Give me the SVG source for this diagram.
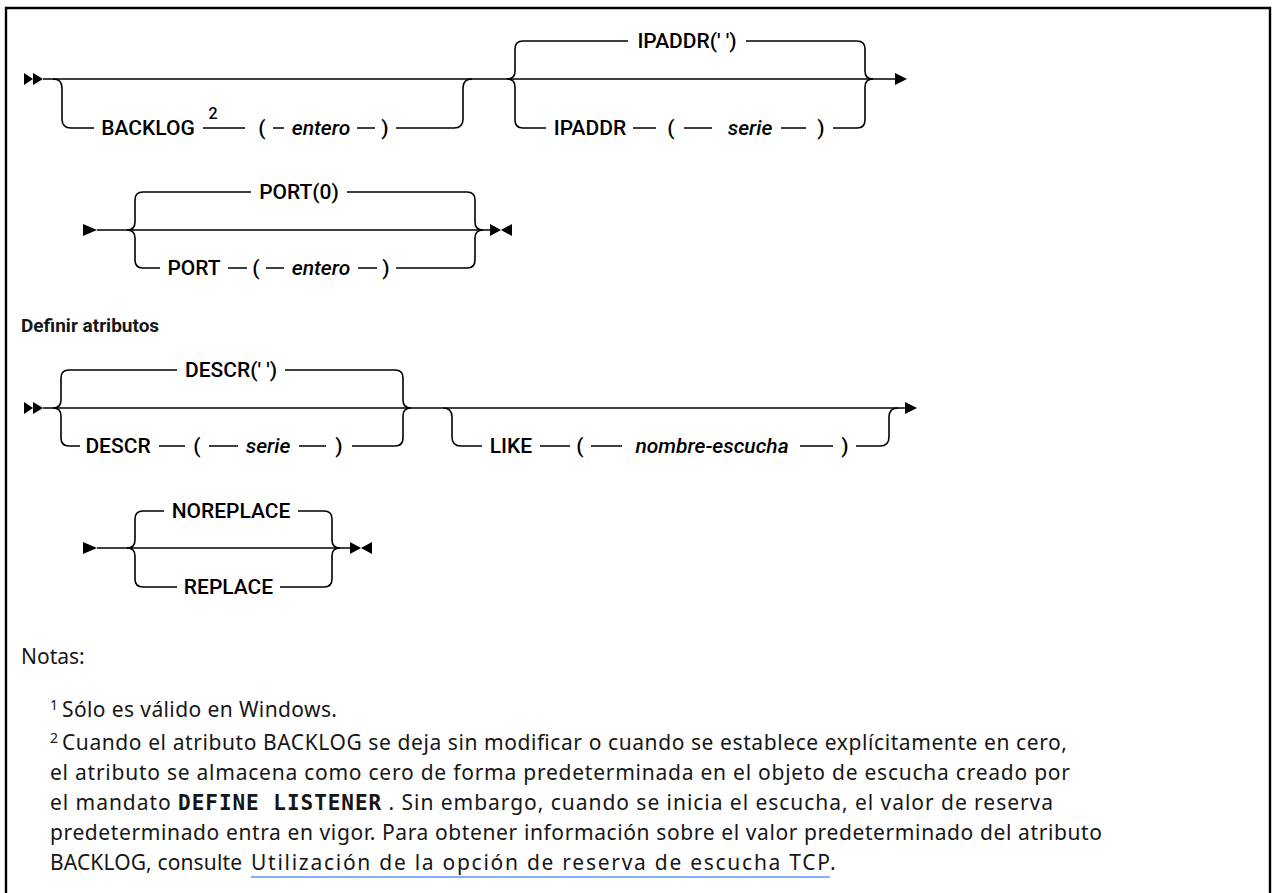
<svg xmlns="http://www.w3.org/2000/svg" width="1273" height="893" viewBox="0 0 1273 893">
<style>
.ln{fill:none;stroke:#000;stroke-width:1.6}
.ah{fill:#000}
.lbl{font-family:Roboto,"Liberation Sans",sans-serif;font-size:21px;font-weight:500;fill:#000;text-anchor:middle}
.var{font-style:italic}
.sup{font-family:Roboto,"Liberation Sans",sans-serif;font-size:16px;font-weight:500;fill:#000;text-anchor:middle}
.hd{font-family:Roboto,"Liberation Sans",sans-serif;font-size:19px;font-weight:700;fill:#161616}
.nt{font-family:"Noto Sans","Liberation Sans",sans-serif;font-size:21px;fill:#161616}
.ns{font-family:"Noto Sans","Liberation Sans",sans-serif;font-size:14px;fill:#161616}
.mono{font-family:"DejaVu Sans Mono","Liberation Mono",monospace;font-weight:700}
</style>
<path class="ln" d="M6 893 V8 H1270 V893" style="stroke-width:2.4"/>
<g id="connectors">
<!-- row 1 -->
<polygon class="ah" points="24,73 33,79 24,85"/><polygon class="ah" points="33,73 43,79 33,85"/>
<path class="ln" d="M43 79 H895"/>
<path class="ln" d="M53 79 Q62 79 62 88 V119 Q62 128 71 128 H94"/>
<path class="ln" d="M203 128 H245 M273 128 H284 M357 128 H375"/>
<path class="ln" d="M396 128 H454 Q463 128 463 119 V88 Q463 79 472 79"/>
<path class="ln" d="M507 79 Q515 79 515 71 V49 Q515 41 523 41 H628"/>
<path class="ln" d="M746 41 H857 Q865 41 865 49 V71 Q865 79 873 79"/>
<path class="ln" d="M507 79 Q515 79 515 87 V120 Q515 128 523 128 H546"/>
<path class="ln" d="M633 128 H656 M684 128 H712 M781 128 H806"/>
<path class="ln" d="M833 128 H857 Q865 128 865 120 V87 Q865 79 873 79"/>
<polygon class="ah" points="895,73 907,79 895,85"/>
<!-- row 2 -->
<polygon class="ah" points="83,224 97,230 83,236"/>
<path class="ln" d="M97 230 H490"/>
<path class="ln" d="M127 230 Q135 230 135 222 V200 Q135 192 143 192 H251"/>
<path class="ln" d="M347 192 H467 Q475 192 475 200 V222 Q475 230 483 230"/>
<path class="ln" d="M127 230 Q135 230 135 238 V260 Q135 268 143 268 H160"/>
<path class="ln" d="M228 268 H247 M266 268 H284 M358 268 H377"/>
<path class="ln" d="M396 268 H467 Q475 268 475 260 V238 Q475 230 483 230"/>
<polygon class="ah" points="490,224 501,230 490,236"/><polygon class="ah" points="512,224 501,230 512,236"/>
<!-- row 3 -->
<polygon class="ah" points="24,402 33,408 24,414"/><polygon class="ah" points="33,402 43,408 33,414"/>
<path class="ln" d="M43 408 H905"/>
<path class="ln" d="M53 408 Q61 408 61 400 V378 Q61 370 69 370 H177"/>
<path class="ln" d="M285 370 H395 Q403 370 403 378 V400 Q403 408 411 408"/>
<path class="ln" d="M53 408 Q61 408 61 416 V438 Q61 446 69 446 H80"/>
<path class="ln" d="M159 446 H185 M209 446 H238 M299 446 H326"/>
<path class="ln" d="M352 446 H395 Q403 446 403 438 V416 Q403 408 411 408"/>
<path class="ln" d="M443 408 Q452 408 452 417 V437 Q452 446 461 446 H482"/>
<path class="ln" d="M540 446 H570 M591 446 H622 M800 446 H833"/>
<path class="ln" d="M856 446 H880 Q889 446 889 437 V417 Q889 408 898 408"/>
<polygon class="ah" points="905,402 917,408 905,414"/>
<!-- row 4 -->
<polygon class="ah" points="83,542 97,548 83,554"/>
<path class="ln" d="M97 548 H350"/>
<path class="ln" d="M127 548 Q135 548 135 540 V519 Q135 511 143 511 H164"/>
<path class="ln" d="M298 511 H324 Q332 511 332 519 V540 Q332 548 340 548"/>
<path class="ln" d="M127 548 Q135 548 135 556 V579 Q135 587 143 587 H177"/>
<path class="ln" d="M280 587 H324 Q332 587 332 579 V556 Q332 548 340 548"/>
<polygon class="ah" points="350,542 361,548 350,554"/><polygon class="ah" points="372,542 361,548 372,554"/>
</g>
<g id="n-backlog"><text class="lbl" x="148" y="135">BACKLOG</text><text class="sup" x="213" y="119">2</text><text class="lbl" x="262" y="135">(</text><text class="lbl var" x="321" y="135">entero</text><text class="lbl" x="385" y="135">)</text></g>
<g id="n-ipaddr-def"><text class="lbl" x="687" y="48">IPADDR(' ')</text></g>
<g id="n-ipaddr"><text class="lbl" x="590" y="135">IPADDR</text><text class="lbl" x="671" y="135">(</text><text class="lbl var" x="750" y="135">serie</text><text class="lbl" x="821" y="135">)</text></g>
<g id="n-port-def"><text class="lbl" x="299" y="199">PORT(0)</text></g>
<g id="n-port"><text class="lbl" x="194" y="275">PORT</text><text class="lbl" x="256" y="275">(</text><text class="lbl var" x="321" y="275">entero</text><text class="lbl" x="386" y="275">)</text></g>
<g id="heading"><text class="hd" x="21" y="332">Definir atributos</text></g>
<g id="n-descr-def"><text class="lbl" x="231" y="377">DESCR(' ')</text></g>
<g id="n-descr"><text class="lbl" x="118" y="453">DESCR</text><text class="lbl" x="197" y="453">(</text><text class="lbl var" x="268" y="453">serie</text><text class="lbl" x="339" y="453">)</text></g>
<g id="n-like"><text class="lbl" x="511" y="453">LIKE</text><text class="lbl" x="580" y="453">(</text><text class="lbl var" x="712" y="453">nombre-escucha</text><text class="lbl" x="845" y="453">)</text></g>
<g id="n-noreplace"><text class="lbl" x="231" y="518">NOREPLACE</text></g>
<g id="n-replace"><text class="lbl" x="228.5" y="594">REPLACE</text></g>
<g id="notes">
<text class="nt" x="21" y="664">Notas:</text>
<text class="ns" x="50" y="710">1</text><text class="nt" x="62" y="717" textLength="275">Sólo es válido en Windows.</text>
<text class="ns" x="50" y="743">2</text><text class="nt" x="62" y="750" textLength="1005">Cuando el atributo BACKLOG se deja sin modificar o cuando se establece explícitamente en cero,</text>
<text class="nt" x="50" y="780" textLength="1020">el atributo se almacena como cero de forma predeterminada en el objeto de escucha creado por</text>
<text class="nt" x="50" y="810" textLength="1003">el mandato <tspan class="mono">DEFINE LISTENER</tspan> . Sin embargo, cuando se inicia el escucha, el valor de reserva</text>
<text class="nt" x="50" y="840" textLength="1052">predeterminado entra en vigor. Para obtener información sobre el valor predeterminado del atributo</text>
<text class="nt" x="50" y="870" textLength="192">BACKLOG, consulte</text>
<text class="nt" x="251" y="870" textLength="579">Utilización de la opción de reserva de escucha TCP</text><text class="nt" x="830" y="870">.</text>
<line x1="251" y1="877" x2="830" y2="877" stroke="#0f62fe" stroke-width="1.2"/>
</g>
</svg>
